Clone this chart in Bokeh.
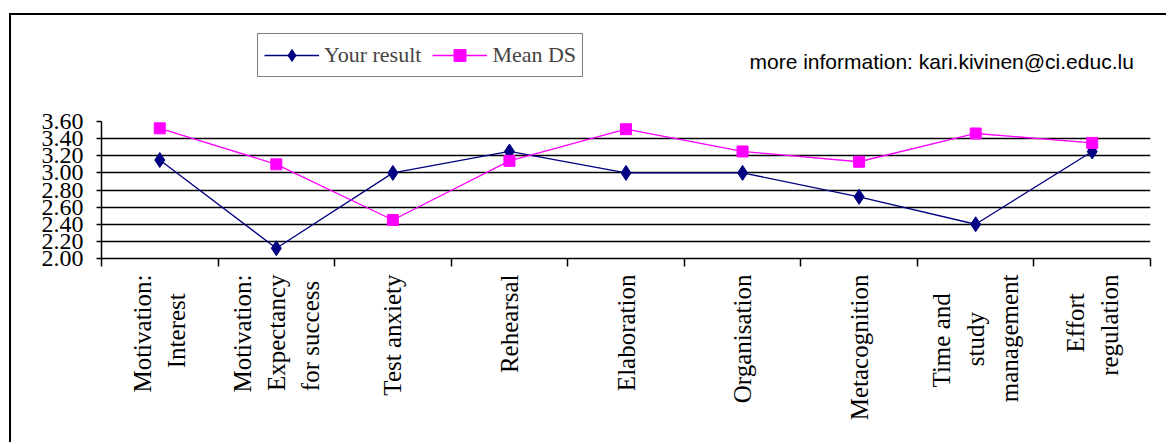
import math

from bokeh.embed import file_html
from bokeh.models import (ColumnDataSource, FixedTicker, Label, Legend,
                          LegendItem, Range1d)
from bokeh.plotting import figure
from bokeh.resources import INLINE

# Scale names and scores
categories = [
    "Motivation:\nInterest",
    "Motivation:\nExpectancy\nfor success",
    "Test anxiety",
    "Rehearsal",
    "Elaboration",
    "Organisation",
    "Metacognition",
    "Time and\nstudy\nmanagement",
    "Effort\nregulation",
]
your_result = [3.15, 2.12, 3.00, 3.25, 3.00, 3.00, 2.72, 2.40, 3.25]
mean_ds = [3.52, 3.10, 2.45, 3.14, 3.51, 3.25, 3.13, 3.46, 3.35]
y_ticks = [2.00, 2.20, 2.40, 2.60, 2.80, 3.00, 3.20, 3.40, 3.60]

n = len(categories)
centers = [i + 0.5 for i in range(n)]

source = ColumnDataSource(dict(x=centers, you=your_result, mean=mean_ds))


def _em(ch):
    """Rough advance width of a Times-like glyph, in em."""
    if ch in "ijlt:.' ":
        return 0.28
    if ch in "fr":
        return 0.33
    if ch == "s":
        return 0.39
    if ch in "aceyv":
        return 0.46
    if ch in "mMW":
        return 0.85
    if ch.isupper():
        return 0.67
    return 0.5


def centred(label):
    """Pad the shorter lines of a multi-line tick label so that the lines
    sit centred on one another once the label is rotated."""
    lines = label.split("\n")
    widths = [sum(_em(c) for c in ln) for ln in lines]
    longest = max(widths)
    out = []
    for ln, w in zip(lines, widths):
        pad = int(round((longest - w) / 2 / 0.25))
        out.append(ln + "\u00a0" * pad)
    return "\n".join(out)


# canvas geometry (the chart area sits inside a bordered box)
W, H = 1157, 429
B_LEFT, B_RIGHT, B_TOP, B_BOTTOM = 90, 18, 10, 186
frame_h = H - B_TOP - B_BOTTOM
scale_px = 137.0  # pixels between 2.00 and 3.60
y_lo, y_hi = y_ticks[0], y_ticks[-1]
y_top = y_lo + (y_hi - y_lo) * frame_h / scale_px

p = figure(
    width=W, height=H,
    x_range=Range1d(0, n), y_range=Range1d(y_lo, y_top),
    output_backend="svg", toolbar_location=None,
    min_border_left=B_LEFT, min_border_right=B_RIGHT,
    min_border_top=B_TOP, min_border_bottom=B_BOTTOM,
    background_fill_color="white", border_fill_color="white",
    styles={
        "margin-left": "9px", "margin-top": "13px",
        "border-left": "2px solid black", "border-top": "2px solid black",
    },
)
p.outline_line_color = None

serif = "Liberation Serif"

# y axis
yax = p.yaxis[0]
yax.ticker = FixedTicker(ticks=y_ticks)
yax.bounds = (y_lo, y_hi)
yax.major_label_overrides = {t: f"{t:.2f}" for t in y_ticks}
yax.major_label_text_font = serif
yax.major_label_text_font_size = "24px"
yax.major_label_text_color = "black"
yax.major_label_standoff = 13
yax.major_tick_out = 5
yax.major_tick_in = 0
yax.minor_tick_line_color = None
yax.axis_line_color = "black"
yax.axis_line_width = 1.5
yax.major_tick_line_color = "black"
yax.major_tick_line_width = 1.5

# x axis: labels at category centres, ticks at category boundaries
xax = p.xaxis[0]
xax.ticker = FixedTicker(ticks=centers, minor_ticks=list(range(n + 1)))
xax.major_label_overrides = {c: centred(lab) for c, lab in zip(centers, categories)}
xax.major_label_orientation = math.pi / 2
xax.major_label_text_font = serif
xax.major_label_text_font_size = "25px"
xax.major_label_text_line_height = 1.25
xax.major_label_text_color = "black"
xax.major_label_standoff = 8
xax.major_tick_out = 0
xax.major_tick_in = 0
xax.major_tick_line_color = None
xax.minor_tick_out = 8
xax.minor_tick_in = 0
xax.minor_tick_line_color = "black"
xax.minor_tick_line_width = 1.5
xax.axis_line_color = "black"
xax.axis_line_width = 1.5

# horizontal gridlines
p.xgrid.grid_line_color = None
p.ygrid.ticker = FixedTicker(ticks=y_ticks[1:-1])
p.ygrid.grid_line_color = "black"
p.ygrid.grid_line_width = 1.6

# series
navy = "#000080"
magenta = "#FF00FF"
l_you = p.line("x", "you", source=source, line_color=navy, line_width=1.3)
m_you = p.scatter("x", "you", source=source, marker="diamond",
                  size=15, fill_color=navy, line_color=navy)
l_mean = p.line("x", "mean", source=source, line_color=magenta, line_width=1.3)
m_mean = p.scatter("x", "mean", source=source, marker="square",
                   size=11, fill_color=magenta, line_color=magenta)

legend = Legend(
    items=[LegendItem(label="Your result", renderers=[l_you, m_you]),
           LegendItem(label="Mean DS", renderers=[l_mean, m_mean])],
    orientation="horizontal",
    location=(156, 181),
    margin=0, padding=6, spacing=11,
    glyph_width=55, glyph_height=30, label_height=30,
    label_standoff=5,
    label_text_font=serif, label_text_font_size="22px",
    border_line_color="black", border_line_width=1.5,
    background_fill_color="white", background_fill_alpha=1,
)
p.add_layout(legend, "center")

info = Label(
    x=648, y=197, x_units="screen", y_units="screen",
    text="more information: kari.kivinen@ci.educ.lu",
    text_font="Liberation Sans", text_font_size="21px",
    text_baseline="middle", text_align="left", text_color="black",
)
p.add_layout(info)

open("out.html", "w").write(file_html(p, INLINE))
